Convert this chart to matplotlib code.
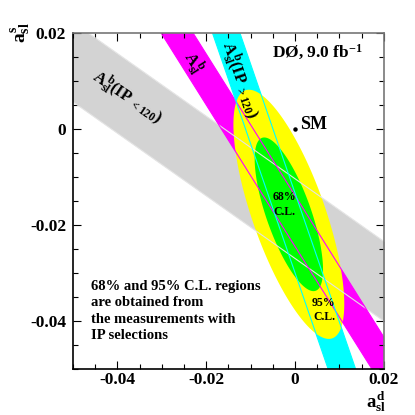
import numpy as np
import matplotlib
matplotlib.use('Agg')
import matplotlib.pyplot as plt
from matplotlib.ticker import MultipleLocator, FuncFormatter

# 2D fit result: centre, widths and correlation of (a_sl^d, a_sl^s)
fit_center = (-0.0014, -0.0178)
fit_sigma = (0.0051, 0.0106)
fit_rho = -0.72
cl_levels = [0.95, 0.68]
cl_colors = ['#ffff00', '#00ff00']

# measurement bands: a_sl^s = intercept + slope * a_sl^d  (+- halfwidth)
band_intercept = [-0.0187, -0.0192, -0.0217]
band_slope = [-0.652, -1.474, -2.686]
band_halfwidth = [0.0083, 0.0053, 0.0083]
band_fill = ['#d3d3d3', '#ff00ff', '#00ffff']
band_edge = ['#e4e4e4', '#ff00ff', '#00ffff']

sm_point = (0.0, 0.0)

plt.rcParams['font.family'] = 'Liberation Serif'
plt.rcParams['font.weight'] = 'bold'
plt.rcParams['mathtext.fontset'] = 'custom'
plt.rcParams['mathtext.rm'] = 'Liberation Serif:bold'
plt.rcParams['mathtext.it'] = 'Liberation Serif:bold'
plt.rcParams['mathtext.bf'] = 'Liberation Serif:bold'

fig = plt.figure(figsize=(4.15, 4.15), dpi=100)
ax = fig.add_axes([0.176, 0.111, 0.749, 0.810])

# bands
xs = np.array([-0.06, 0.03])
for a, b, w, c in zip(band_intercept, band_slope, band_halfwidth, band_fill):
    ax.fill_between(xs, a + b * xs - w, a + b * xs + w, color=c, lw=0, zorder=1)

# C.L. ellipses
t = np.linspace(0, 2 * np.pi, 300)
for p, c in zip(cl_levels, cl_colors):
    k = np.sqrt(-2 * np.log(1 - p))
    ex = fit_center[0] + k * fit_sigma[0] * np.cos(t)
    ey = fit_center[1] + k * fit_sigma[1] * (fit_rho * np.cos(t) + np.sqrt(1 - fit_rho**2) * np.sin(t))
    ax.fill(ex, ey, color=c, lw=0, zorder=2)

# band edges on top
for a, b, w, c in zip(band_intercept, band_slope, band_halfwidth, band_edge):
    for s in (-1, 1):
        ax.plot(xs, a + b * xs + s * w, color=c, lw=0.8, zorder=3)

ax.plot(*sm_point, 'o', color='k', ms=2.2, zorder=4)
ax.text(0.0011, 0.0, 'SM', fontsize=13, ha='left', va='baseline', zorder=5)

ax.text(-0.0052, 0.0160, 'DØ, 9.0 fb$^{-1}$', fontsize=12.5, ha='left', va='center')

ax.text(-0.0379, 0.0065, r'$A_{sl}^{b}(IP_{\ <120})$', fontsize=12, rotation=-34,
        ha='center', va='center', rotation_mode='anchor')
ax.text(-0.0230, 0.0137, r'$A_{sl}^{b}$', fontsize=12, rotation=-58,
        ha='center', va='center', rotation_mode='anchor')
ax.text(-0.0124, 0.0102, r'$A_{sl}^{b}(IP_{\ >120})$', fontsize=12, rotation=-71,
        ha='center', va='center', rotation_mode='anchor')

ax.text(-0.0025, -0.0158, '68%\nC.L.', fontsize=8.5, ha='center', va='center', linespacing=1.3)
ax.text(0.0065, -0.0377, '95%\nC.L.', fontsize=8.5, ha='center', va='center', linespacing=1.3)

ax.text(-0.0460, -0.0315, '68% and 95% C.L. regions\nare obtained from\nthe measurements with\nIP selections',
        fontsize=10.5, ha='left', va='top', linespacing=1.33)

ax.set_xlim(-0.05, 0.02)
ax.set_ylim(-0.05, 0.02)

for axis in (ax.xaxis, ax.yaxis):
    axis.set_major_locator(MultipleLocator(0.02))
    axis.set_minor_locator(MultipleLocator(0.005))
    axis.set_major_formatter(FuncFormatter(lambda v, pos: '0' if abs(v) < 1e-9 else f'{v:g}'))

ax.tick_params(which='both', direction='in', top=True, right=True, labelsize=12.5)
ax.tick_params(which='major', length=6, width=0.8)
ax.tick_params(which='minor', length=3.5, width=0.8)
ax.tick_params(axis='x', pad=2.5)
ax.tick_params(axis='y', pad=5)
for side in ('top', 'right'):
    ax.spines[side].set_color('#777777')
for sp in ax.spines.values():
    sp.set_linewidth(1.2)
    sp.set_zorder(6)

fig.text(21 / 415, 1 - 33 / 415, r'$a_{sl}^{s}$', fontsize=14, rotation=90, ha='center', va='center')
fig.text(376 / 415, 1 - 402 / 415, r'$a_{sl}^{d}$', fontsize=13.5, ha='center', va='center')

fig.savefig('out.png', dpi=100)
